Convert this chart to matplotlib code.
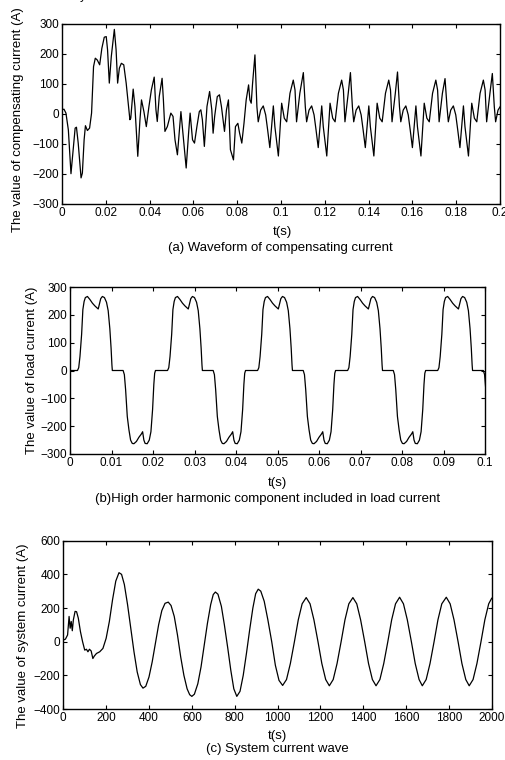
import numpy as np
import matplotlib
matplotlib.use("Agg")
import matplotlib.pyplot as plt
from matplotlib.ticker import FormatStrFormatter, MultipleLocator

plt.rcParams['font.family'] = ['Liberation Sans', 'DejaVu Sans']

# ---------------- (a) compensating current ----------------
# start-up transient, (t [s], i [A])
comp_t = [0.0, 0.0009, 0.0018, 0.0029, 0.0041, 0.0051, 0.0060, 0.0066, 0.0074,
          0.0087, 0.0093, 0.0101, 0.0107, 0.0116, 0.0126, 0.0135, 0.0144, 0.0152,
          0.0161, 0.0172, 0.0182, 0.0193, 0.0202, 0.0208, 0.0216, 0.0225, 0.0239,
          0.0247, 0.0254, 0.0262, 0.0271, 0.0282, 0.0293, 0.0310, 0.0314, 0.0325,
          0.0333, 0.0346, 0.0356, 0.0363, 0.0374, 0.0385, 0.0397, 0.0408, 0.0421,
          0.0429, 0.0435, 0.0444, 0.0457, 0.0463, 0.0470, 0.0481, 0.0497, 0.0507,
          0.0516, 0.0527, 0.0535, 0.0543, 0.0555, 0.0567, 0.0578, 0.0585, 0.0596,
          0.0605, 0.0616, 0.0627, 0.0634, 0.0641, 0.0650, 0.0662, 0.0674, 0.0684,
          0.0690, 0.0697, 0.0709, 0.0719, 0.0728, 0.0742, 0.0751, 0.0760, 0.0769,
          0.0783, 0.0792, 0.0803, 0.0811, 0.0821, 0.0831, 0.0841, 0.0852, 0.0858,
          0.0864, 0.0870]
comp_i = [14, 16, 3, -53, -199, -119, -47, -44, -97,
          -213, -197, -86, -39, -55, -47, 3, 158, 186,
          180, 164, 219, 256, 258, 214, 103, 191, 282,
          214, 103, 153, 169, 164, 103, -19, -14, 83,
          25, -141, -19, 47, 8, -42, 25, 80, 123,
          14, -25, 58, 119, 47, -58, -42, 3, -8,
          -86, -136, -64, 8, -86, -180, -64, 3, -86,
          -97, -42, 8, 14, -19, -108, 25, 75, 14,
          -64, -8, 58, 64, 25, -58, 14, 47, -119,
          -153, -42, -31, -64, -97, -31, 47, 97, 47,
          36, 100]
# one steady-state cycle, measured from its main peak
comp_cycle_dt = [0.0, 0.0009, 0.0015, 0.0026, 0.0038, 0.0049, 0.0058, 0.0068,
                 0.0084, 0.0091, 0.0107, 0.0122, 0.0134, 0.0145, 0.0160, 0.0175,
                 0.0183, 0.0190, 0.0205]
comp_cycle_i = [138, 24, -26, 13, 27, -3, -53, -112,
                27, -42, -140, 36, -14, -26, 69, 113,
                80, -26, 69]
comp_peak_t = [0.0881, 0.1102, 0.1317, 0.1532, 0.1749, 0.1965]
comp_peak_i = [197, 138, 138, 140, 118, 135]

# ---------------- (b) load current harmonic component ----------------
load_cycle_dt = [0.0, 0.0003, 0.0006, 0.0010, 0.0013, 0.0016, 0.0019, 0.0024,
                 0.0030, 0.0036, 0.0042, 0.0047, 0.0050, 0.0053, 0.0056, 0.0060,
                 0.0065, 0.0070, 0.0074, 0.0078, 0.0081, 0.0083, 0.0084, 0.0110,
                 0.0113, 0.0116, 0.0120, 0.0124, 0.0128, 0.0132, 0.0136, 0.0142,
                 0.0148, 0.0154, 0.0157, 0.0160, 0.0163, 0.0168, 0.0173, 0.0177,
                 0.0181, 0.0184, 0.0186, 0.0188]
load_cycle_i = [0, 10, 50, 130, 219, 248, 262, 266,
                255, 242, 232, 225, 221, 240, 258, 266,
                262, 245, 215, 150, 80, 20, 0, 0,
                -15, -69, -165, -213, -250, -262, -263, -255,
                -240, -228, -220, -250, -262, -263, -250, -220,
                -140, -50, -10, 0]
load_cycle_start = [0.0018, 0.0235, 0.0452, 0.0669, 0.0886]

# ---------------- (c) system current ----------------
sys_t = [0, 10, 20, 27, 32, 37, 42, 47, 55, 62, 70, 80, 90, 100, 108, 115, 122,
         130, 138, 145, 155, 170, 185, 200, 215, 230, 245, 260, 272, 285, 300,
         315, 330, 345, 360, 372, 385, 400, 415, 430, 445, 460, 475, 490, 503,
         518, 533, 548, 563, 578, 590, 600, 612, 628, 643, 658, 673, 688, 700,
         710, 722, 738, 752, 768, 782, 796, 810, 825, 840, 855, 870, 885, 898,
         910, 922, 938, 955, 973, 990, 1007, 1024, 1042, 1060, 1079, 1097, 1115,
         1134, 1152, 1170, 1189, 1207, 1225, 1242, 1260, 1278, 1297, 1315, 1333,
         1352, 1370, 1388, 1407, 1425, 1443, 1460, 1478, 1496, 1515, 1533, 1551,
         1570, 1588, 1606, 1625, 1643, 1661, 1676, 1694, 1712, 1731, 1749, 1767,
         1788, 1806, 1824, 1843, 1861, 1879, 1895, 1913, 1931, 1950, 1968, 1986,
         2000]
sys_i = [10, 15, 40, 150, 80, 120, 65, 130, 180, 178, 140, 60, 0, -50, -45, -60,
         -45, -55, -100, -85, -70, -60, -40, 20, 120, 250, 360, 410, 400, 340,
         220, 80, -60, -180, -255, -276, -265, -210, -120, -10, 100, 185, 228,
         235, 215, 150, 40, -90, -200, -280, -315, -325, -312, -250, -150, -20,
         110, 220, 280, 295, 282, 210, 100, -40, -170, -280, -325, -295, -200,
         -70, 70, 200, 285, 312, 300, 240, 130, 0, -140, -230, -260, -225, -130,
         0, 130, 225, 262, 225, 130, 0, -130, -225, -262, -225, -130, 0, 130,
         225, 262, 225, 130, 0, -130, -225, -262, -225, -130, 0, 130, 225, 264,
         225, 130, 0, -130, -225, -262, -225, -130, 0, 130, 225, 264, 225, 130,
         0, -130, -225, -262, -225, -130, 0, 130, 225, 258]


def assemble_comp():
    t = list(comp_t)
    i = list(comp_i)
    for t0, pk in zip(comp_peak_t, comp_peak_i):
        for dt, v in zip(comp_cycle_dt, comp_cycle_i):
            t.append(t0 + dt)
            i.append(pk if dt == 0.0 else v)
    return np.array(t), np.array(i)


def assemble_load():
    t = [0.0]
    i = [0.0]
    for t0 in load_cycle_start:
        for dt, v in zip(load_cycle_dt, load_cycle_i):
            t.append(t0 + dt)
            i.append(v)
    return np.array(t), np.array(i)


def style(ax):
    ax.tick_params(direction='in', top=True, right=True, length=3, width=0.8,
                   labelsize=8.5, pad=2, colors='black')
    for s in ax.spines.values():
        s.set_linewidth(1.0)
        s.set_color('black')


W, H = 505, 760
LABEL_FS = 9.5
CAP_FS = 9.5


def px(x, y):
    return x / W, 1 - y / H


fig = plt.figure(figsize=(W / 100, H / 100), dpi=100)

# panel (a)
ax1 = fig.add_axes([62 / W, 1 - 204 / H, 438 / W, 180 / H])
ta, ia = assemble_comp()
ax1.plot(ta, ia, color='black', lw=0.9)
ax1.set_xlim(0, 0.2)
ax1.set_ylim(-300, 300)
ax1.xaxis.set_major_locator(MultipleLocator(0.02))
ax1.yaxis.set_major_locator(MultipleLocator(100))
ax1.xaxis.set_major_formatter(FormatStrFormatter('%g'))
style(ax1)
fig.text(*px(18, 120), 'The value of compensating current (A)', rotation=90,
         ha='center', va='center', fontsize=LABEL_FS)
fig.text(*px(282, 232), 't(s)', ha='center', va='center', fontsize=LABEL_FS)
fig.text(*px(280, 248), '(a) Waveform of compensating current',
         ha='center', va='center', fontsize=CAP_FS)

# panel (b)
ax2 = fig.add_axes([70 / W, 1 - 454 / H, 415 / W, 167 / H])
tb, ib = assemble_load()
ax2.plot(tb, ib, color='black', lw=0.9)
ax2.set_xlim(0, 0.1)
ax2.set_ylim(-300, 300)
ax2.xaxis.set_major_locator(MultipleLocator(0.01))
ax2.yaxis.set_major_locator(MultipleLocator(100))
ax2.xaxis.set_major_formatter(FormatStrFormatter('%g'))
style(ax2)
fig.text(*px(32, 370), 'The value of load current (A)', rotation=90,
         ha='center', va='center', fontsize=LABEL_FS)
fig.text(*px(277, 483), 't(s)', ha='center', va='center', fontsize=LABEL_FS)
fig.text(*px(268, 499),
         '(b)High order harmonic component included in load current',
         ha='center', va='center', fontsize=CAP_FS)

# panel (c)
ax3 = fig.add_axes([63.3 / W, 1 - 709 / H, 428.4 / W, 168.3 / H])
ax3.plot(sys_t, sys_i, color='black', lw=0.9)
ax3.set_xlim(0, 2000)
ax3.set_ylim(-400, 600)
ax3.xaxis.set_major_locator(MultipleLocator(200))
ax3.yaxis.set_major_locator(MultipleLocator(200))
style(ax3)
fig.text(*px(23, 636), 'The value of system current (A)', rotation=90,
         ha='center', va='center', fontsize=LABEL_FS)
fig.text(*px(277, 736), 't(s)', ha='center', va='center', fontsize=LABEL_FS)
fig.text(*px(277, 749), '(c) System current wave',
         ha='center', va='center', fontsize=CAP_FS)

# tail of the preceding caption line, clipped by the top edge
fig.text(83 / W, 1 + 0.5 / H, 'y', ha='center', va='baseline', fontsize=9)

fig.savefig('out.png', dpi=100)
